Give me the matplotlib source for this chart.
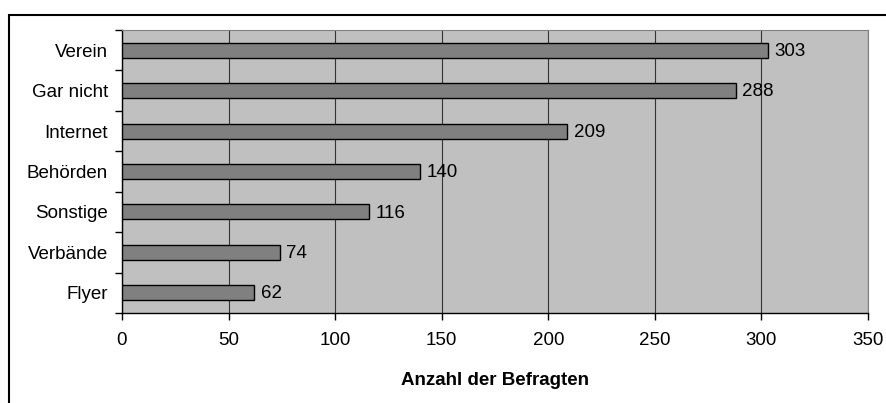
import matplotlib as mpl
mpl.use("Agg")
import matplotlib.pyplot as plt
from matplotlib.patches import Rectangle

categories=["Verein","Gar nicht","Internet","Behörden","Sonstige","Verbände","Flyer"]
values=[303,288,209,140,116,74,62]
xticks=[0,50,100,150,200,250,300,350]
xlabel="Anzahl der Befragten"

fs=13.5
plt.rcParams['font.family']=['Liberation Sans','DejaVu Sans']
fig=plt.figure(figsize=(8.87,4.03),dpi=100)
# outer chart frame (left and top edges visible, others run off the image)
fig.patches.append(Rectangle((9/887,-0.1),1.2,(403-15)/403+0.1,transform=fig.transFigure,fill=False,edgecolor='black',linewidth=1.5))

ax=fig.add_axes([122/887,1-313/403,(868-122)/887,(313-30)/403])
ax.set_facecolor('#c0c0c0')
n=len(categories)
ypos=list(range(n))
ax.barh(ypos,values,height=0.37,color='#808080',edgecolor='black',linewidth=1,zorder=3)
for y,v in zip(ypos,values):
  ax.text(v+3,y+0.03,str(v),va='center',ha='left',fontsize=fs,zorder=4)
ax.set_xlim(0,350)
ax.set_ylim(n-0.5,-0.5)
ax.set_xticks(xticks)
ax.set_xticklabels([str(t) for t in xticks],fontsize=fs)
ax.set_yticks(ypos)
ax.set_yticklabels(categories,fontsize=fs)
ax.tick_params(axis='y',which='major',length=0,pad=10)
ax.set_yticks([i+0.5 for i in range(-1,n)],minor=True)
ax.tick_params(axis='y',which='minor',length=5,direction='out',width=1)
ax.tick_params(axis='x',length=5,direction='out',width=1,pad=9)
ax.grid(axis='x',color='#333333',linewidth=0.8,zorder=1)
ax.set_axisbelow(True)
for s in ['top','right']:
  ax.spines[s].set_color('#808080')
for s in ['left','bottom']:
  ax.spines[s].set_color('black')
  ax.spines[s].set_linewidth(1)
ax.set_xlabel(xlabel,fontsize=fs,fontweight='bold',labelpad=16)
plt.savefig('out.png',dpi=100)
